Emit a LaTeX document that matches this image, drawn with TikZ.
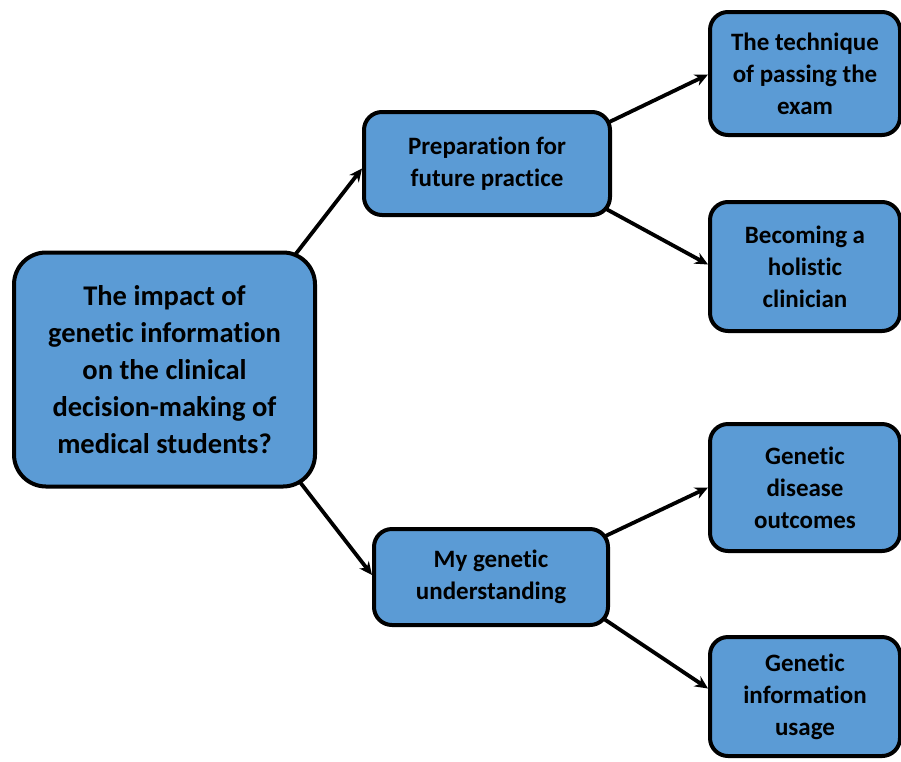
\documentclass[tikz,border=0pt]{standalone}
\usepackage{fontspec}
\setmainfont{Carlito}[Ligatures=NoCommon]
\usetikzlibrary{arrows.meta,calc,backgrounds}
\definecolor{boxblue}{HTML}{5B9BD5}
\tikzset{
  box/.style={draw=black, line width=4pt, fill=boxblue, align=center, inner sep=2pt,
    font=\fontsize{25}{32}\selectfont\bfseries, rounded corners=18pt},
  bigbox/.style={box, rounded corners=32pt, font=\fontsize{28.5}{37}\selectfont\bfseries},
  conn/.style={line width=3.8pt, -{Stealth[length=13pt,width=12pt]}}
}
\begin{document}
\begin{tikzpicture}[x=1pt,y=-1pt]
\useasboundingbox (0,0) rectangle (901,761);
\node[bigbox, minimum width=301pt, minimum height=234pt] (root) at (164.5,369.5)
  {The impact of\\genetic information\\on the clinical\\decision-making of\\medical students?};
\node[box, minimum width=246pt, minimum height=103pt] (prep) at (487,163.5)
  {Preparation for\\future practice};
\node[box, minimum width=234pt, minimum height=96pt] (under) at (491,577)
  {My genetic\\understanding};
\node[box, minimum width=190pt, minimum height=123pt] (tech) at (805,73.5)
  {The technique\\of passing the\\exam};
\node[box, minimum width=190pt, minimum height=129pt] (becom) at (805,266.5)
  {Becoming a\\holistic\\clinician};
\node[box, minimum width=190pt, minimum height=127pt] (disease) at (805,487.5)
  {Genetic\\disease\\outcomes};
\node[box, minimum width=190pt, minimum height=119pt] (usage) at (805,696.5)
  {Genetic\\information\\usage};
\begin{scope}[on background layer]
\draw[conn] ($(root.north east)+(-31,16)$) -- ($(prep.west)+(0,5)$);
\draw[conn] ($(root.south east)+(-26,-18)$) -- ($(under.west)+(0,-2)$);
\draw[conn] ($(prep.north east)+(-11,16)$) -- ($(tech.west)+(0,1)$);
\draw[conn] ($(prep.south east)+(-15,-13)$) -- ($(becom.west)+(0,-2)$);
\draw[conn] ($(under.north east)+(-13,13)$) -- ($(disease.west)+(0,0)$);
\draw[conn] ($(under.south east)+(-12,-12)$) -- ($(usage.west)+(0,-8)$);
\end{scope}
\end{tikzpicture}
\end{document}
